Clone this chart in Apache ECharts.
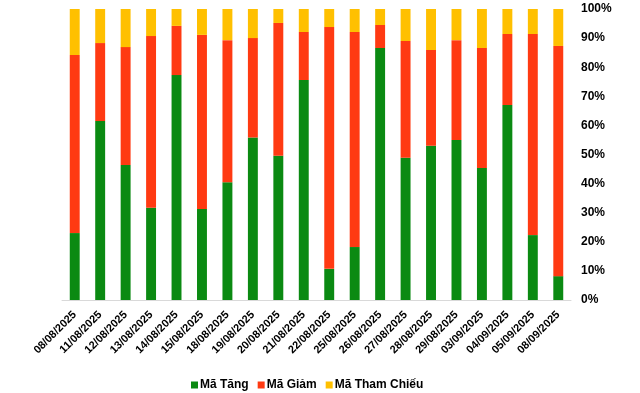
<!DOCTYPE html>
<html><head><meta charset="utf-8">
<script src="https://cdn.jsdelivr.net/npm/echarts@6/dist/echarts.min.js"></script>
<style>html,body{margin:0;padding:0;background:#fff}#c{width:640px;height:393px}</style>
</head><body><div id="c"></div>
<script>
const categories = ["08/08/2025","11/08/2025","12/08/2025","13/08/2025","14/08/2025","15/08/2025","18/08/2025","19/08/2025","20/08/2025","21/08/2025","22/08/2025","25/08/2025","26/08/2025","27/08/2025","28/08/2025","29/08/2025","03/09/2025","04/09/2025","05/09/2025","08/09/2025"];
const maTang = [23.0,61.5,46.4,31.7,77.3,31.3,40.5,55.8,49.6,75.6,10.7,18.2,86.6,48.9,53.0,55.0,45.4,67.0,22.3,8.2];
const maGiam = [61.2,26.8,40.5,59.0,16.9,59.8,48.8,34.2,45.6,16.5,83.1,73.9,7.9,40.1,32.9,34.3,41.2,24.4,69.1,79.1];
const maThamChieu = [15.8,11.7,13.1,9.3,5.8,8.9,10.7,10.0,4.8,7.9,6.2,7.9,5.5,11.0,14.1,10.7,13.4,8.6,8.6,12.7];
const yTicks = [0,10,20,30,40,50,60,70,80,90,100];

const font = 'Liberation Sans, Arial, sans-serif';
const chart = echarts.init(document.getElementById('c'));
chart.setOption({
  animation:false,
  grid:{left:62,right:69,top:9,bottom:93},
  legend:{top:374,left:186,itemWidth:7,itemHeight:7,itemGap:9,icon:'rect',
    textStyle:{fontFamily:font,fontSize:12,fontWeight:'bold',color:'#000',padding:[0,0,0,-3]},
    data:['Mã Tăng','Mã Giảm','Mã Tham Chiếu']},
  xAxis:{type:'category',data:categories,
    axisLine:{lineStyle:{color:'#d9d9d9',width:1}},axisTick:{show:false},
    axisLabel:{rotate:45,interval:0,fontFamily:font,fontSize:11,fontWeight:'bold',color:'#000',margin:13}},
  yAxis:{type:'value',position:'right',min:0,max:100,interval:10,
    splitLine:{show:false},axisLine:{show:false},axisTick:{show:false},
    axisLabel:{formatter:v=>v+'%',fontFamily:font,fontSize:12,fontWeight:'bold',color:'#000',margin:10}},
  series:[
    {name:'Mã Tăng',type:'bar',stack:'s',data:maTang,barWidth:'39%',itemStyle:{color:'#0B8A12'}},
    {name:'Mã Giảm',type:'bar',stack:'s',data:maGiam,itemStyle:{color:'#FF3A12'}},
    {name:'Mã Tham Chiếu',type:'bar',stack:'s',data:maThamChieu,itemStyle:{color:'#FFC000'}}
  ]
});
</script></body></html>
